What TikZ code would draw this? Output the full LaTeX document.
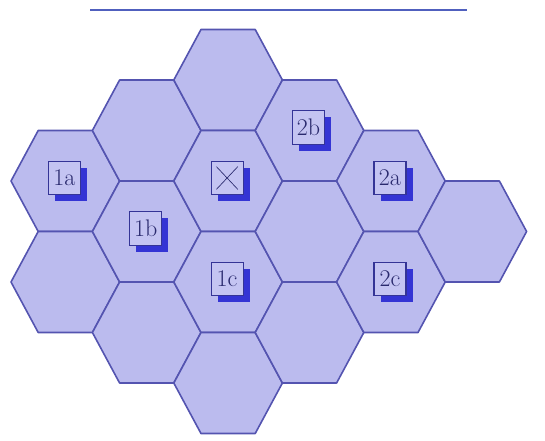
\documentclass[tikz,border=0pt]{standalone}
\usetikzlibrary{shadows}

\definecolor{hexfill}{RGB}{187,187,238}
\definecolor{hexline}{RGB}{84,84,176}
\definecolor{tagline}{RGB}{52,52,150}
\definecolor{tagfill}{RGB}{196,196,242}
\definecolor{tagshadow}{RGB}{52,52,212}
\definecolor{tagtext}{RGB}{42,42,110}
\definecolor{rulecol}{RGB}{80,96,190}

\tikzset{
  hexcell/.style={fill=hexfill, draw=hexline, line width=1.2pt, line join=round},
  tag/.style={draw=tagline, fill=tagfill, line width=0.9pt,
    minimum width=24pt, minimum height=25pt, inner sep=0pt,
    text=tagtext, font=\fontsize{18}{18}\selectfont,
    drop shadow={shadow xshift=5pt, shadow yshift=-5pt, fill=tagshadow, opacity=1}},
  crossmark/.style={path picture={
    \draw[tagtext, line width=0.5pt]
      ([shift={(4pt,-4pt)}]path picture bounding box.north west) --
      ([shift={(-4pt,4pt)}]path picture bounding box.south east)
      ([shift={(-4pt,-4pt)}]path picture bounding box.north east) --
      ([shift={(4pt,4pt)}]path picture bounding box.south west);}},
}

\begin{document}
\begin{tikzpicture}[x=0.75pt, y=-0.75pt]
    \useasboundingbox (0,0) rectangle (545,441);

    % Rule across the top
    \coordinate (ruleL) at (90,10);
    \coordinate (ruleR) at (467,10);
    \draw[rulecol, line width=1.2pt] (ruleL) -- (ruleR);

    % Hexagon cells: column / half-row
    \foreach \c/\k in {0/2, 0/4, 1/1, 1/3, 1/5, 2/0, 2/2, 2/4, 2/6,
                       3/1, 3/3, 3/5, 4/2, 4/4, 5/3} {
        \coordinate (h\c\k) at ({65.3+81.4*\c}, {80+50.5*\k});
        \draw[hexcell, shift={(h\c\k)}]
            (-54.3,0) -- (-27.1,-50.5) -- (27.1,-50.5) -- (54.3,0)
            -- (27.1,50.5) -- (-27.1,50.5) -- cycle;
    }

    % Labelled cells
    \foreach \c/\k/\lbl in {0/2/1a, 1/3/1b, 2/4/1c, 4/2/2a, 3/1/2b, 4/4/2c} {
        \node[tag] (t\lbl) at ([shift={(-1,-3)}]h\c\k) {\lbl};
    }

    % Crossed-out cell
    \node[tag, crossmark] (tx) at ([shift={(-1,-3)}]h22) {};
\end{tikzpicture}
\end{document}
